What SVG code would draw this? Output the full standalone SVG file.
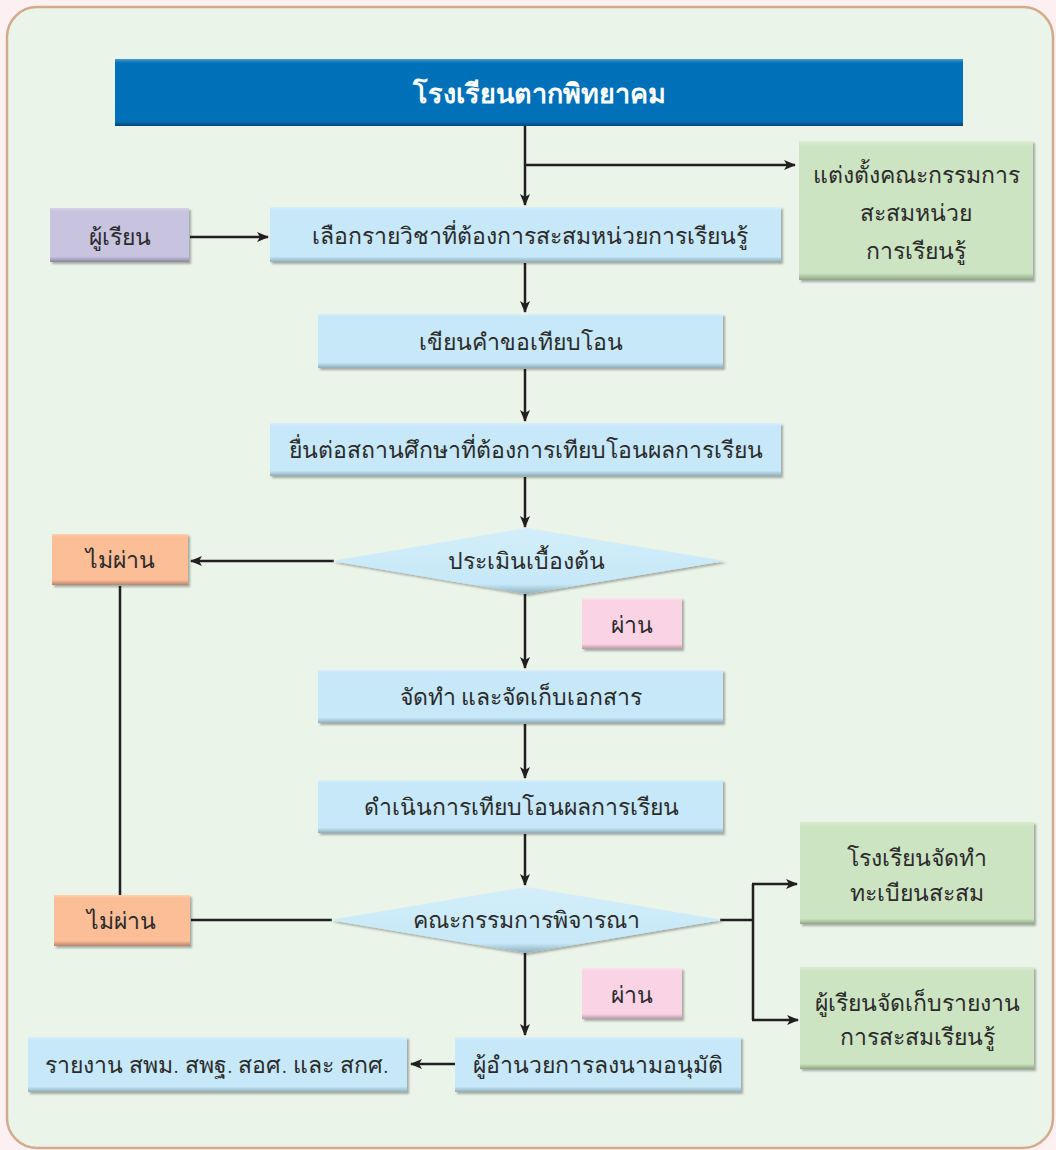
<svg xmlns="http://www.w3.org/2000/svg" width="1056" height="1150" viewBox="0 0 1056 1150">
<defs>
<style>
.t{font-family:"Noto Sans","DejaVu Sans",sans-serif;font-size:23px;font-weight:300;fill:#2b2b2b;text-anchor:middle;dominant-baseline:central}
.title{font-family:"Noto Sans","DejaVu Sans",sans-serif;font-size:27px;font-weight:bold;fill:#ffffff;text-anchor:middle;dominant-baseline:central}
.ln{fill:none;stroke:#231f20;stroke-width:2.5}
.sh{filter:url(#ds)}
</style>
<filter id="ds" x="-10%" y="-10%" width="130%" height="140%">
<feDropShadow dx="2" dy="2" stdDeviation="1" flood-color="#000" flood-opacity="0.3"/>
</filter>
<linearGradient id="gBlue" x1="0" y1="0" x2="0" y2="1">
<stop offset="0" stop-color="#d8f0fb"/><stop offset="0.06" stop-color="#c6e8f8"/><stop offset="0.9" stop-color="#c6e8f8"/><stop offset="1" stop-color="#8eaebb"/>
</linearGradient>
<linearGradient id="gGreen" x1="0" y1="0" x2="0" y2="1">
<stop offset="0" stop-color="#dcecd2"/><stop offset="0.04" stop-color="#cde4c2"/><stop offset="0.95" stop-color="#cde4c2"/><stop offset="1" stop-color="#8fa684"/>
</linearGradient>
<linearGradient id="gPurple" x1="0" y1="0" x2="0" y2="1">
<stop offset="0" stop-color="#d7d3ea"/><stop offset="0.06" stop-color="#c8c4e0"/><stop offset="0.9" stop-color="#c8c4e0"/><stop offset="1" stop-color="#8a86a0"/>
</linearGradient>
<linearGradient id="gOrange" x1="0" y1="0" x2="0" y2="1">
<stop offset="0" stop-color="#fdd0b0"/><stop offset="0.06" stop-color="#fbbe96"/><stop offset="0.9" stop-color="#fbbe96"/><stop offset="1" stop-color="#b5856a"/>
</linearGradient>
<linearGradient id="gPink" x1="0" y1="0" x2="0" y2="1">
<stop offset="0" stop-color="#fde3ee"/><stop offset="0.06" stop-color="#fad4e4"/><stop offset="0.9" stop-color="#fad4e4"/><stop offset="1" stop-color="#b898a6"/>
</linearGradient>
<linearGradient id="gTitle" x1="0" y1="0" x2="0" y2="1">
<stop offset="0" stop-color="#4a9ad0"/><stop offset="0.06" stop-color="#0070b8"/><stop offset="0.93" stop-color="#0070b8"/><stop offset="1" stop-color="#00456f"/>
</linearGradient>
<linearGradient id="gDia" x1="0" y1="0" x2="0" y2="1">
<stop offset="0" stop-color="#d4eefa"/><stop offset="0.85" stop-color="#c6e8f8"/><stop offset="1" stop-color="#8eaebb"/>
</linearGradient>
<marker id="ah" viewBox="0 0 12 10" refX="11" refY="5" markerWidth="12" markerHeight="10" markerUnits="userSpaceOnUse" orient="auto">
<path d="M0,0 L12,5 L0,10 L3,5 z" fill="#231f20"/>
</marker>
</defs>
<rect width="1056" height="1150" fill="#fcf0f2"/>
<rect x="7" y="7" width="1046" height="1141" rx="30" ry="30" fill="#eaf4e8" stroke="#d4aa8c" stroke-width="2.5"/>

<g id="connectors">
<path class="ln" d="M525,125 V205" marker-end="url(#ah)"/>
<path class="ln" d="M525,165 H795" marker-end="url(#ah)"/>
<path class="ln" d="M190,237 H268" marker-end="url(#ah)"/>
<path class="ln" d="M525,263 V312" marker-end="url(#ah)"/>
<path class="ln" d="M525,369 V421" marker-end="url(#ah)"/>
<path class="ln" d="M525,477 V527" marker-end="url(#ah)"/>
<path class="ln" d="M334,561 H191" marker-end="url(#ah)"/>
<path class="ln" d="M120,586 V895"/>
<path class="ln" d="M191,920 H332"/>
<path class="ln" d="M525,594 V668" marker-end="url(#ah)"/>
<path class="ln" d="M525,724 V778" marker-end="url(#ah)"/>
<path class="ln" d="M525,834 V885" marker-end="url(#ah)"/>
<path class="ln" d="M720,920 H753 M753,884 V1020"/>
<path class="ln" d="M752,884 H797" marker-end="url(#ah)"/>
<path class="ln" d="M752,1020 H798" marker-end="url(#ah)"/>
<path class="ln" d="M525,953 V1035" marker-end="url(#ah)"/>
<path class="ln" d="M455,1064 H411" marker-end="url(#ah)"/>
</g>

<g id="title">
<rect x="115" y="59" width="848" height="67" fill="url(#gTitle)"/>
<text class="title" x="539" y="92">โรงเรียนตากพิทยาคม</text>
</g>

<g id="appoint">
<rect class="sh" x="799" y="141" width="234" height="139" fill="url(#gGreen)"/>
<text class="t" x="916" y="174">แต่งตั้งคณะกรรมการ</text>
<text class="t" x="916" y="212">สะสมหน่วย</text>
<text class="t" x="916" y="250">การเรียนรู้</text>
</g>

<g id="student">
<rect class="sh" x="50" y="208" width="139" height="54" fill="url(#gPurple)"/>
<text class="t" x="120" y="236">ผู้เรียน</text>
</g>

<g id="select">
<rect class="sh" x="270" y="207" width="511" height="55" fill="url(#gBlue)"/>
<text class="t" x="530" y="235">เลือกรายวิชาที่ต้องการสะสมหน่วยการเรียนรู้</text>
</g>

<g id="write">
<rect class="sh" x="318" y="314" width="405" height="54" fill="url(#gBlue)"/>
<text class="t" x="521" y="341">เขียนคำขอเทียบโอน</text>
</g>

<g id="submit">
<rect class="sh" x="270" y="423" width="511" height="53" fill="url(#gBlue)"/>
<text class="t" x="526" y="449">ยื่นต่อสถานศึกษาที่ต้องการเทียบโอนผลการเรียน</text>
</g>

<g id="assess">
<polygon class="sh" points="332,561 526,528 725,561 526,594" fill="url(#gDia)"/>
<text class="t" x="526" y="560">ประเมินเบื้องต้น</text>
</g>

<g id="fail1">
<rect class="sh" x="52" y="534" width="136" height="51" fill="url(#gOrange)"/>
<text class="t" x="120" y="559">ไม่ผ่าน</text>
</g>

<g id="pass1">
<rect class="sh" x="582" y="598" width="100" height="51" fill="url(#gPink)"/>
<text class="t" x="632" y="624">ผ่าน</text>
</g>

<g id="docs">
<rect class="sh" x="318" y="670" width="405" height="53" fill="url(#gBlue)"/>
<text class="t" x="521" y="696">จัดทำ และจัดเก็บเอกสาร</text>
</g>

<g id="transfer">
<rect class="sh" x="318" y="780" width="405" height="53" fill="url(#gBlue)"/>
<text class="t" x="521" y="806">ดำเนินการเทียบโอนผลการเรียน</text>
</g>

<g id="committee">
<polygon class="sh" points="330,920 526,887 722,920 526,953" fill="url(#gDia)"/>
<text class="t" x="526" y="919">คณะกรรมการพิจารณา</text>
</g>

<g id="fail2">
<rect class="sh" x="54" y="895" width="136" height="51" fill="url(#gOrange)"/>
<text class="t" x="121" y="920">ไม่ผ่าน</text>
</g>

<g id="register">
<rect class="sh" x="800" y="822" width="234" height="102" fill="url(#gGreen)"/>
<text class="t" x="917" y="857">โรงเรียนจัดทำ</text>
<text class="t" x="917" y="892">ทะเบียนสะสม</text>
</g>

<g id="report">
<rect class="sh" x="800" y="967" width="234" height="102" fill="url(#gGreen)"/>
<text class="t" x="917" y="1002">ผู้เรียนจัดเก็บรายงาน</text>
<text class="t" x="917" y="1036">การสะสมเรียนรู้</text>
</g>

<g id="pass2">
<rect class="sh" x="582" y="968" width="100" height="51" fill="url(#gPink)"/>
<text class="t" x="632" y="994">ผ่าน</text>
</g>

<g id="approve">
<rect class="sh" x="455" y="1037" width="286" height="55" fill="url(#gBlue)"/>
<text class="t" x="598" y="1064">ผู้อำนวยการลงนามอนุมัติ</text>
</g>

<g id="notify">
<rect class="sh" x="28" y="1037" width="379" height="55" fill="url(#gBlue)"/>
<text class="t" x="217" y="1064">รายงาน สพม. สพฐ. สอศ. และ สกศ.</text>
</g>
</svg>
